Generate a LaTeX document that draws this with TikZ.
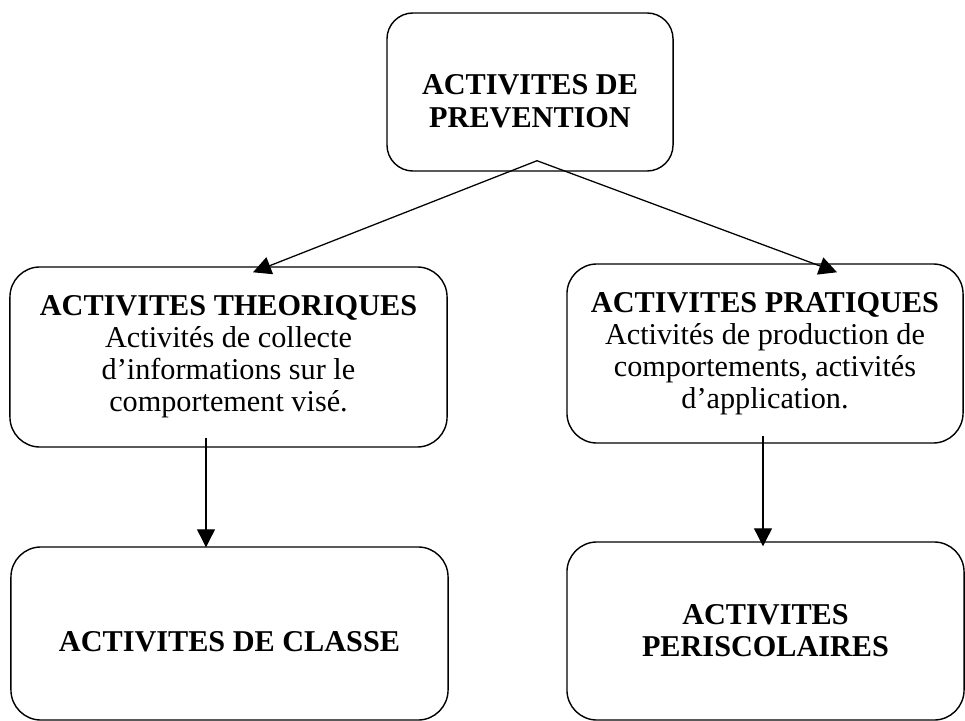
\documentclass[tikz,border=0pt]{standalone}
\usepackage{fontspec}
\setmainfont{Liberation Serif}
\usetikzlibrary{arrows.meta,calc}
\tikzset{
    >={Triangle[length=0.45cm,width=0.45cm]},
    flow/.style={
        box/.append style={align=center,draw,line width=1pt,rectangle,rounded corners=0.75cm,font=\fontsize{21.5}{22.8}\selectfont},
        every edge/.append style={draw,line width=0.9pt,->}
    }
}

\begin{document}
\begin{tikzpicture}[flow,x=0.025cm,y=-0.025cm]
    \useasboundingbox (0,0) rectangle (965,721);
    \node[box,minimum width=7.15cm,minimum height=3.95cm,rounded corners=0.65cm,text height=1.75cm,text depth=0pt] (p) at (530,92) {\textbf{ACTIVITES DE}\\\textbf{PREVENTION}};

        \node[box,minimum width=10.925cm,minimum height=4.5cm] (t) at (228.5,357) {\textbf{ACTIVITES THEORIQUES}\\Activités de collecte\\d’informations sur le\\comportement visé.};
        \node[box,minimum width=9.9cm,minimum height=4.475cm] (a) at (765,353.5) {\textbf{ACTIVITES PRATIQUES}\\Activités de production de\\comportements, activités\\d’application.};
        \node[box,minimum width=10.925cm,minimum height=4.325cm,text height=0.875cm,text depth=0pt] (c) at (229.5,633.5) {\textbf{ACTIVITES DE CLASSE}};
        \node[box,minimum width=9.925cm,minimum height=4.45cm] (s) at (765.5,631) {\textbf{ACTIVITES}\\\textbf{PERISCOLAIRES}};

    \coordinate (p0) at ($(p.south)+(7,-11)$);
    \coordinate (t1) at ($(t.north)+(24.5,6)$);
    \coordinate (a1) at ($(a.north)+(72,9)$);
    \coordinate (t0) at ($(t.south)+(-22.5,-10)$);
    \coordinate (c1) at ($(c.north)+(-23.5,1)$);
    \coordinate (a0) at ($(a.south)+(-2,-8)$);
    \coordinate (s1) at ($(s.north)+(-2.5,5)$);
    \path (p0) edge (t1) edge (a1);
    \path (t0) edge (c1);
    \path (a0) edge (s1);
\end{tikzpicture}
\end{document}
